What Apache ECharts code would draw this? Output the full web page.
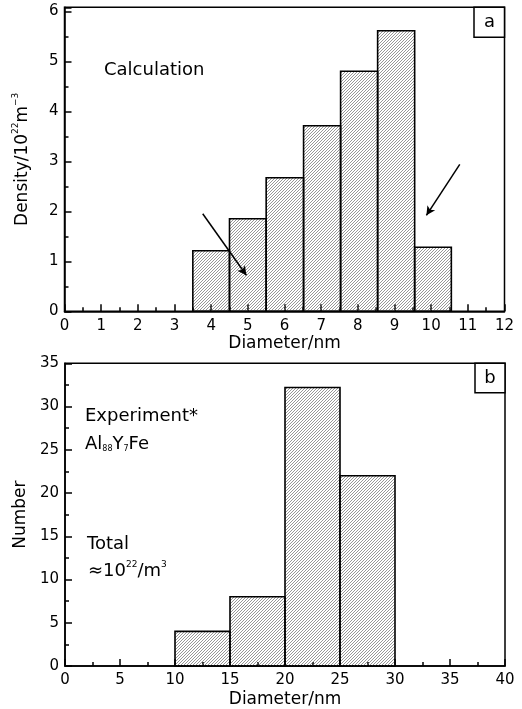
<!DOCTYPE html>
<html>
<head>
<meta charset="utf-8">
<script src="https://cdn.jsdelivr.net/npm/echarts@6/dist/echarts.min.js"></script>
<style>
html,body{margin:0;padding:0;background:#fff;}
#chart{width:522px;height:709px;}
</style>
</head>
<body>
<div id="chart"></div>
<script>
// ---- Panel a (Calculation) ----
var aBinLeft  = [3.5, 4.5, 5.5, 6.52, 7.53, 8.54, 9.55];
var aBinRight = [4.5, 5.5, 6.52, 7.53, 8.54, 9.55, 10.55];
var aDensity  = [1.21, 1.85, 2.67, 3.71, 4.80, 5.61, 1.28];
// arrows (data coordinates): [x0, y0, x1, y1]
var aArrows = [[3.77, 1.95, 4.96, 0.72], [10.78, 2.94, 9.87, 1.92]];

// ---- Panel b (Experiment) ----
var bBinLeft  = [10, 15, 20, 25];
var bBinRight = [15, 20, 25, 30];
var bNumber   = [4, 8, 32.2, 22];

var FONT = 'DejaVu Sans';

function hatchCanvas() {
  var s = 3;
  var c = document.createElement('canvas');
  c.width = s; c.height = s;
  var g = c.getContext('2d');
  g.strokeStyle = '#6a6a6a';
  g.lineWidth = 0.7;
  g.beginPath();
  g.moveTo(0, s); g.lineTo(s, 0);
  g.moveTo(-1, 1); g.lineTo(1, -1);
  g.moveTo(s - 1, s + 1); g.lineTo(s + 1, s - 1);
  g.stroke();
  return c;
}
var hatch = { image: hatchCanvas(), repeat: 'repeat' };

function makeData(l, r, v) {
  var out = [];
  for (var i = 0; i < v.length; i++) out.push([l[i], r[i], v[i]]);
  return out;
}

function renderBin(params, api) {
  var p0 = api.coord([api.value(0), 0]);
  var p1 = api.coord([api.value(1), api.value(2)]);
  return {
    type: 'rect',
    shape: { x: p0[0], y: p1[1], width: p1[0] - p0[0], height: p0[1] - p1[1] },
    style: { fill: hatch, stroke: '#000', lineWidth: 1.6 }
  };
}

var arrowData = aArrows.map(function (a) {
  return [{ coord: [a[0], a[1]] }, { coord: [a[2], a[3]] }];
});

function xAxisCfg(gridIndex, max, interval, gap) {
  return {
    type: 'value', gridIndex: gridIndex, min: 0, max: max, interval: interval,
    name: 'Diameter/nm', nameLocation: 'middle', nameGap: gap,
    nameTextStyle: { fontFamily: FONT, fontSize: 17, color: '#000' },
    axisLine: { show: true, onZero: false, lineStyle: { color: '#000', width: 1.5 } },
    axisTick: { show: true, inside: true, length: 7, lineStyle: { color: '#000', width: 1.5 } },
    minorTick: { show: true, splitNumber: 2, length: 4, lineStyle: { color: '#000', width: 1.5 } },
    axisLabel: { fontFamily: FONT, fontSize: 15, color: '#000', margin: 7 },
    splitLine: { show: false }
  };
}
function yAxisCfg(gridIndex, max, interval, name, rich, gap, showMax) {
  return {
    type: 'value', gridIndex: gridIndex, min: 0, max: max, interval: interval,
    name: name, nameLocation: 'middle', nameGap: gap, nameRotate: 90,
    nameTextStyle: { fontFamily: FONT, fontSize: 17, color: '#000', rich: rich },
    axisLine: { show: true, onZero: false, lineStyle: { color: '#000', width: 1.5 } },
    axisTick: { show: true, inside: true, length: 7, lineStyle: { color: '#000', width: 1.5 } },
    minorTick: { show: true, splitNumber: 2, length: 4, lineStyle: { color: '#000', width: 1.5 } },
    axisLabel: { fontFamily: FONT, fontSize: 15, color: '#000', margin: 6, showMaxLabel: showMax,
      formatter: function (v) { return (Math.abs(v - Math.round(v)) < 1e-9) ? String(Math.round(v)) : ''; } },
    splitLine: { show: false }
  };
}

var supRich = {
  n: { fontFamily: FONT, fontSize: 17, color: '#000', lineHeight: 20, verticalAlign: 'bottom' },
  s: { fontFamily: FONT, fontSize: 9, color: '#000', lineHeight: 20, verticalAlign: 'top' }
};

var textRich = {
  n: { fontFamily: FONT, fontSize: 18, color: '#000', lineHeight: 20, verticalAlign: 'bottom' },
  s: { fontFamily: FONT, fontSize: 9, color: '#000', lineHeight: 20, verticalAlign: 'top' },
  d: { fontFamily: FONT, fontSize: 8, color: '#000', lineHeight: 20, verticalAlign: 'bottom' }
};

var chart = echarts.init(document.getElementById('chart'), null, { renderer: 'canvas' });
chart.setOption({
  animation: false,
  backgroundColor: '#fff',
  grid: [
    { left: 64.5, right: 17.5, top: 7.3, height: 304, show: true, borderColor: '#000', borderWidth: 1.5, backgroundColor: 'transparent' },
    { left: 65, right: 17, top: 363.3, height: 302.7, show: true, borderColor: '#000', borderWidth: 1.5, backgroundColor: 'transparent' }
  ],
  xAxis: [xAxisCfg(0, 12, 1, 24), xAxisCfg(1, 40, 5, 25)],
  yAxis: [
    yAxisCfg(0, 6.08, 1, '{n|Density/10}{s|22}{n|m}{s|−3}', supRich, 33, false),
    yAxisCfg(1, 35, 5, 'Number', supRich, 30, true)
  ],
  series: [
    {
      type: 'custom', xAxisIndex: 0, yAxisIndex: 0, renderItem: renderBin,
      data: makeData(aBinLeft, aBinRight, aDensity), silent: true,
      markLine: {
        silent: true, symbol: ['none', 'arrow'], symbolSize: [7, 9], animation: false,
        label: { show: false },
        lineStyle: { color: '#000', width: 1.5, type: 'solid' },
        emphasis: { disabled: true },
        data: arrowData
      }
    },
    {
      type: 'custom', xAxisIndex: 1, yAxisIndex: 1, renderItem: renderBin,
      data: makeData(bBinLeft, bBinRight, bNumber), silent: true
    }
  ],
  graphic: [
    { type: 'rect', shape: { x: 474, y: 7.3, width: 30.5, height: 30 }, style: { fill: '#fff', stroke: '#000', lineWidth: 1.5 }, z: 100 },
    { type: 'text', style: { x: 489.5, y: 22.5, text: 'a', fontFamily: FONT, fontSize: 18, fill: '#000', align: 'center', verticalAlign: 'middle' }, z: 101 },
    { type: 'rect', shape: { x: 475, y: 363.3, width: 30, height: 29.5 }, style: { fill: '#fff', stroke: '#000', lineWidth: 1.5 }, z: 100 },
    { type: 'text', style: { x: 490, y: 378, text: 'b', fontFamily: FONT, fontSize: 18, fill: '#000', align: 'center', verticalAlign: 'middle' }, z: 101 },
    { type: 'text', style: { x: 104, y: 70, text: 'Calculation', fontFamily: FONT, fontSize: 18, fill: '#000', verticalAlign: 'middle' }, z: 101 },
    { type: 'text', style: { x: 85, y: 416, text: 'Experiment*', fontFamily: FONT, fontSize: 18, fill: '#000', verticalAlign: 'middle' }, z: 101 },
    { type: 'text', style: { x: 85, y: 443, text: '{n|Al}{d|88}{n|Y}{d|7}{n|Fe}', rich: textRich, verticalAlign: 'middle' }, z: 101 },
    { type: 'text', style: { x: 87, y: 544, text: 'Total', fontFamily: FONT, fontSize: 18, fill: '#000', verticalAlign: 'middle' }, z: 101 },
    { type: 'text', style: { x: 88, y: 570, text: '{n|≈10}{s|22}{n|/m}{s|3}', rich: textRich, verticalAlign: 'middle' }, z: 101 }
  ]
});
</script>
</body>
</html>
